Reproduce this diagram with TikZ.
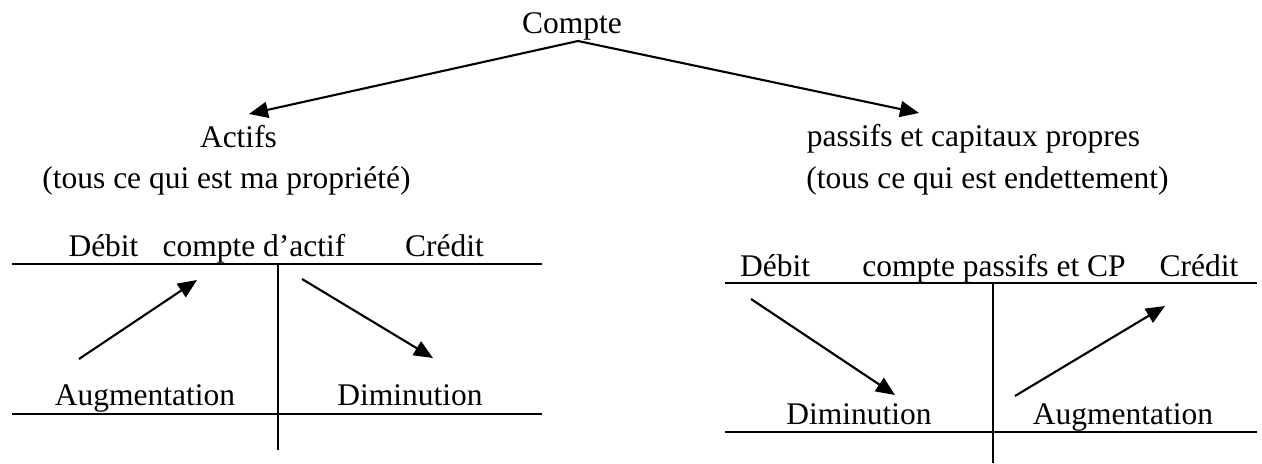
\documentclass[tikz,border=0pt]{standalone}
\usepackage{fontspec}
\setmainfont{Liberation Serif}
\usetikzlibrary{arrows.meta}

\begin{document}
\begin{tikzpicture}[x=0.5pt, y=-0.5pt, >={Triangle[length=9.5pt,width=8pt]},
  txt/.style={anchor=base, inner sep=0pt, font=\fontsize{15.75}{19}\selectfont},
  arrow/.style={->, line width=1.05pt},
  tline/.style={line width=1.05pt}]
  \useasboundingbox (0,0) rectangle (1262,464);

  % account tree
  \node[txt] (compte) at (572,34) {Compte};
  \node[txt] (actifs) at (238.5,148) {Actifs};
  \node[txt] (passifs) at (973.5,147) {passifs et capitaux propres};
  \node[txt] (propriete) at (226.5,189) {(tous ce qui est ma propriété)};
  \node[txt] (dette) at (987.5,189) {(tous ce qui est endettement)};

  \coordinate (root) at (578,41);
  \coordinate (toactifs) at (249,114);
  \coordinate (topassifs) at (919,113);
  \draw[arrow] (root) -- (toactifs);
  \draw[arrow] (root) -- (topassifs);

  % T account: actif
  \node[txt] (debitA) at (103.5,257) {Débit};
  \node[txt] (titreA) at (254,257) {compte d’actif};
  \node[txt] (creditA) at (444.5,257) {Crédit};
  \node[txt] (augA) at (145,405) {Augmentation};
  \node[txt] (dimA) at (410,405) {Diminution};
  \draw[tline] (12,264) -- (542,264);
  \draw[tline] (12,414) -- (542,414);
  \draw[tline] (278,264) -- (278,450);
  \coordinate (augA1) at (79,359);
  \coordinate (augA2) at (197,280);
  \coordinate (dimA1) at (302,279);
  \coordinate (dimA2) at (433,358);
  \draw[arrow] (augA1) -- (augA2);
  \draw[arrow] (dimA1) -- (dimA2);

  % T account: passifs et CP
  \node[txt] (debitP) at (775,277) {Débit};
  \node[txt] (titreP) at (994,277) {compte passifs et CP};
  \node[txt] (creditP) at (1199,277) {Crédit};
  \node[txt] (dimP) at (859,424) {Diminution};
  \node[txt] (augP) at (1123,424) {Augmentation};
  \draw[tline] (725,283) -- (1257,283);
  \draw[tline] (725,432) -- (1257,432);
  \draw[tline] (993,283) -- (993,463);
  \coordinate (dimP1) at (751,299);
  \coordinate (dimP2) at (895,395);
  \coordinate (augP1) at (1015,396);
  \coordinate (augP2) at (1165,306);
  \draw[arrow] (dimP1) -- (dimP2);
  \draw[arrow] (augP1) -- (augP2);
\end{tikzpicture}
\end{document}
